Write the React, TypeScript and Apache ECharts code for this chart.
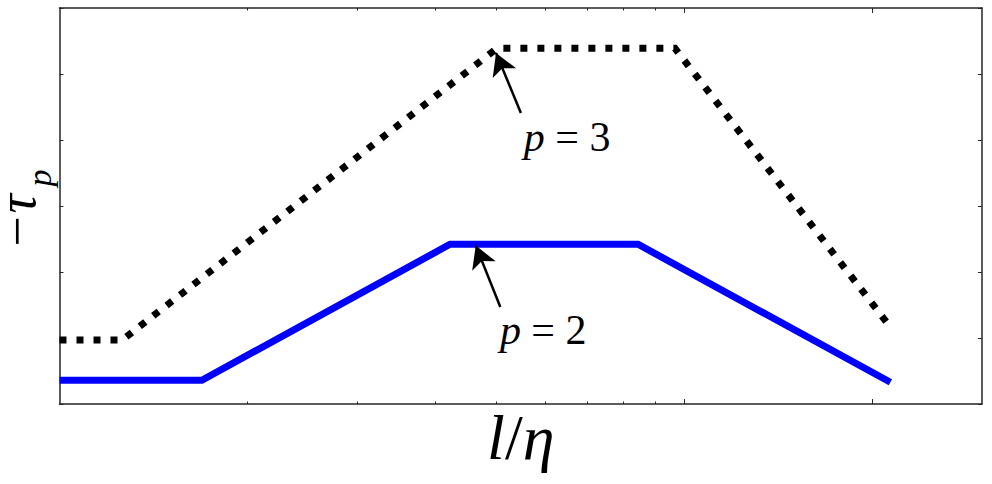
import React, { useEffect, useRef } from 'react';
import * as echarts from 'echarts';

// x: l/eta (log scale), y: -tau_p
const xRange = [1, 30];
const majorTicks = [10, 20];
const minorTicks = [2, 3, 4, 5, 6, 7, 8, 9];
const yTicks = [0, 6, 1]; // min, max, interval

const p3X = [1, 1.26, 5.02, 9.67, 21.1];
const p3Y = [0.97, 0.97, 5.39, 5.39, 1.24];
const p2X = [1, 1.69, 4.22, 8.44, 21.4];
const p2Y = [0.36, 0.36, 2.42, 2.42, 0.33];

// annotation arrows: [tailX, tailY, tipX, tipY]
const arrowP3 = [5.48, 4.41, 5.0, 5.32];
const arrowP2 = [5.08, 1.47, 4.64, 2.4];
// annotation text anchors: [x, y]
const labelP3 = [6.5, 4.05];
const labelP2 = [5.95, 1.12];

const AXIS_COLOR = '#262626';
const SERIF = 'Liberation Serif';

const App: React.FC = () => {
  const chartRef = useRef<HTMLDivElement>(null);

  useEffect(() => {
    if (!chartRef.current) return;
    const chart = echarts.init(chartRef.current, null, { renderer: 'svg' });

    const logMax = Math.log10(xRange[1]);

    const frameAxis = (position: 'top' | 'bottom', withName: boolean) => ({
      type: 'log',
      logBase: 10,
      position,
      min: xRange[0],
      max: xRange[1],
      axisLine: { show: true, onZero: false, lineStyle: { color: AXIS_COLOR, width: 1.5 } },
      axisTick: { show: false },
      axisLabel: { show: false },
      splitLine: { show: false },
      minorTick: { show: false },
      name: withName ? '{i|l}{r|/}{i|η}' : '',
      nameLocation: 'middle',
      nameGap: 1,
      nameTextStyle: {
        rich: {
          i: { fontFamily: SERIF, fontStyle: 'italic', fontSize: 64, color: '#000' },
          r: { fontFamily: SERIF, fontSize: 64, color: '#000' }
        },
        fontFamily: SERIF,
        fontSize: 64,
        color: '#000'
      }
    });

    const tickAxis = (position: 'top' | 'bottom', values: number[], length: number) => ({
      type: 'value',
      position,
      min: 0,
      max: logMax,
      axisLine: { show: false, onZero: false },
      axisTick: {
        show: true,
        inside: true,
        length,
        customValues: values.map((v) => Math.log10(v)),
        lineStyle: { color: AXIS_COLOR, width: 1 }
      },
      axisLabel: { show: false },
      splitLine: { show: false }
    });

    const yAxisDef = (position: 'left' | 'right') => ({
      type: 'value',
      position,
      min: yTicks[0],
      max: yTicks[1],
      interval: yTicks[2],
      axisLine: { show: true, onZero: false, lineStyle: { color: AXIS_COLOR, width: 1.5 } },
      axisTick: { show: true, inside: true, length: 4, lineStyle: { color: AXIS_COLOR, width: 1 } },
      axisLabel: { show: false },
      splitLine: { show: false }
    });

    const arrow = (a: number[]) => [
      { coord: [a[0], a[1]], symbol: 'none' },
      { coord: [a[2], a[3]], symbol: 'arrow', symbolSize: [19, 22] }
    ];

    const textPoint = (pos: number[], value: string) => ({
      coord: pos,
      value,
      symbol: 'rect',
      symbolSize: 1,
      itemStyle: { color: 'rgba(0,0,0,0)' },
      label: {
        show: true,
        position: 'inside',
        formatter: `{i|p} = ${value}`,
        fontFamily: SERIF,
        fontSize: 42,
        color: '#000',
        rich: {
          i: { fontFamily: SERIF, fontStyle: 'italic', fontSize: 42, color: '#000' }
        }
      }
    });

    const arrowMarkLine = (a: number[]) => ({
      silent: true,
      animation: false,
      label: { show: false },
      lineStyle: { color: '#000', width: 2.5, type: 'solid' },
      data: [arrow(a)]
    });

    const option = {
      animation: false,
      backgroundColor: '#fff',
      grid: { left: 59.5, right: 10, top: 8, bottom: 80, containLabel: false, outerBoundsMode: 'none' },
      xAxis: [
        frameAxis('bottom', true),
        frameAxis('top', false),
        tickAxis('bottom', majorTicks, 5),
        tickAxis('bottom', minorTicks, 2.5),
        tickAxis('top', majorTicks, 5),
        tickAxis('top', minorTicks, 2.5)
      ],
      yAxis: [yAxisDef('left'), yAxisDef('right')],
      graphic: [
        {
          type: 'text',
          x: 17,
          y: 222,
          rotation: Math.PI / 2,
          silent: true,
          style: {
            text: '−τ',
            font: 'italic 54px "Liberation Serif"',
            fill: '#000',
            align: 'center',
            verticalAlign: 'middle'
          }
        },
        {
          type: 'text',
          x: 39,
          y: 178,
          rotation: Math.PI / 2,
          silent: true,
          style: {
            text: 'p',
            font: 'italic 34px "Liberation Serif"',
            fill: '#000',
            align: 'center',
            verticalAlign: 'middle'
          }
        }
      ],
      series: [
        {
          name: 'p=2',
          type: 'line',
          xAxisIndex: 0,
          yAxisIndex: 0,
          data: p2X.map((x, i) => [x, p2Y[i]]),
          showSymbol: false,
          symbol: 'none',
          lineStyle: { color: '#0000ff', width: 7, cap: 'butt', join: 'miter' },
          markLine: arrowMarkLine(arrowP2),
          markPoint: {
            silent: true,
            data: [textPoint(labelP2, '2')]
          }
        },
        {
          name: 'p=3',
          type: 'line',
          xAxisIndex: 0,
          yAxisIndex: 0,
          data: p3X.map((x, i) => [x, p3Y[i]]),
          showSymbol: false,
          symbol: 'none',
          lineStyle: { color: '#000', width: 7, type: [7, 10], cap: 'butt', join: 'miter' },
          markLine: arrowMarkLine(arrowP3),
          markPoint: {
            silent: true,
            data: [textPoint(labelP3, '3')]
          }
        }
      ]
    };

    chart.setOption(option as any);

    return () => {
      chart.dispose();
    };
  }, []);

  return (
    <div
      ref={chartRef}
      style={{ position: 'fixed', left: 0, top: 0, width: 992, height: 484, background: '#fff' }}
    />
  );
};

export default App;
